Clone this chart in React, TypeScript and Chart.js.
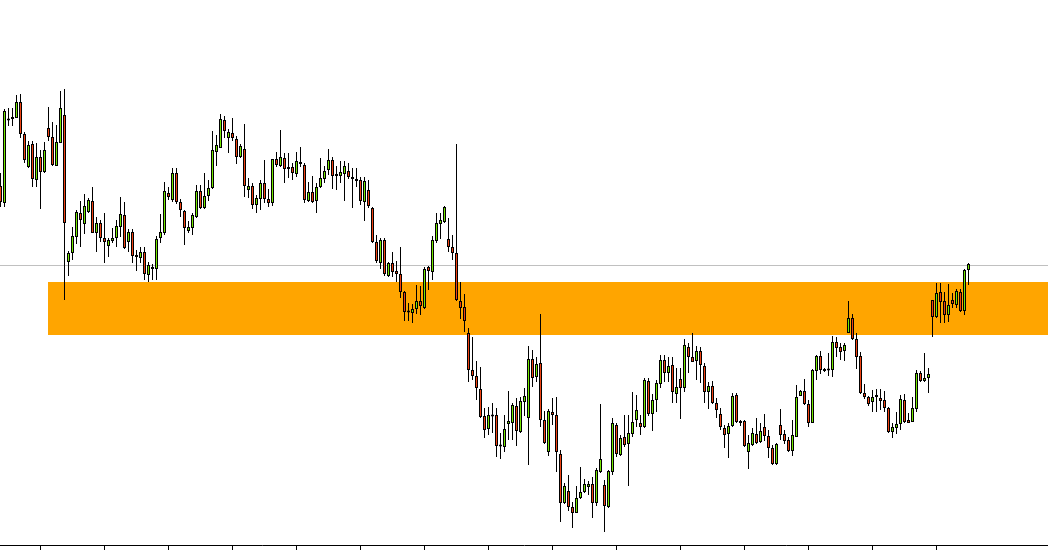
import { useEffect, useRef } from 'react';
import { Chart, registerables } from 'chart.js';

Chart.register(...registerables);

// Candle values (price units), one entry per bar
const OPEN = [
  414,397,480,481,482,498,466,433,456,420,
  443,428,472,463,434,457,485,338,347,363,
  387,376,388,399,367,377,362,354,359,362,
  373,385,358,368,345,342,348,325,333,331,
  362,367,407,400,427,398,389,369,372,383,
  409,392,404,412,448,452,480,462,467,461,
  443,451,410,414,395,401,417,401,397,441,
  434,442,431,433,426,438,435,399,408,399,
  413,421,430,440,424,424,426,429,423,421,
  420,398,410,392,358,337,360,324,337,329,
  326,308,289,287,291,299,292,333,328,359,
  376,378,361,353,347,299,293,267,230,224,
  211,184,171,184,185,154,153,176,177,194,
  168,198,182,241,223,237,180,148,188,185,
  146,97,109,93,87,102,108,113,116,97,
  128,115,93,128,175,145,163,156,166,180,
  177,173,219,186,200,216,240,227,235,206,
  221,212,253,243,239,249,234,208,214,197,
  186,172,166,174,205,177,179,148,155,166,
  158,173,164,152,136,175,166,160,149,163,
  204,209,196,177,229,244,229,230,230,258,
  253,249,267,282,261,244,207,203,198,203,
  202,200,192,168,172,176,200,180,178,191,
  227,219,222,300,283,308,299,285,300,295,
  308,289,330,
];
const HIGH = [
  427,491,492,492,505,506,468,459,459,457,
  450,458,493,478,475,509,511,349,373,390,
  399,406,402,413,383,380,387,362,372,380,
  403,398,371,371,350,353,353,338,336,364,
  386,418,413,432,432,401,390,379,387,415,
  415,427,420,469,465,486,484,471,482,464,
  456,476,422,417,405,420,440,411,441,448,
  470,447,447,437,448,453,437,418,424,417,
  442,434,451,443,434,439,439,437,432,432,
  423,423,420,393,365,362,362,338,348,339,
  353,309,297,296,315,314,333,334,364,387,
  387,394,382,365,456,318,306,272,263,239,
  233,192,193,197,192,167,185,209,197,202,
  203,212,254,250,243,286,189,191,202,203,
  150,117,125,98,114,133,121,119,123,132,
  196,120,130,182,177,165,185,185,208,205,
  185,222,222,206,220,245,245,243,243,232,
  232,261,257,267,254,253,237,218,219,202,
  192,175,177,207,207,180,180,165,172,182,
  177,186,170,155,157,191,170,163,180,215,
  210,221,200,231,245,249,232,247,264,263,
  257,257,299,286,267,248,216,204,210,211,
  211,209,193,177,188,205,206,187,203,230,
  229,247,232,300,317,317,308,316,307,311,
  311,331,337,
];
const LOW = [
  393,393,474,474,482,462,437,432,413,413,
  391,427,459,434,434,457,300,324,340,356,
  353,366,387,367,348,358,337,343,357,353,
  363,351,348,337,329,337,320,318,320,320,
  357,365,400,398,396,383,355,367,365,382,
  391,391,399,411,434,452,462,447,459,436,
  442,403,402,391,387,390,397,393,394,433,
  433,417,422,420,423,433,397,398,397,387,
  412,417,425,411,410,417,399,421,392,413,
  395,379,392,357,337,331,324,323,323,318,
  302,279,279,277,286,285,291,310,320,357,
  361,377,348,340,299,281,268,218,220,200,
  182,162,165,167,143,141,148,160,160,154,
  167,184,135,213,218,173,156,144,175,128,
  78,96,89,72,87,101,107,105,82,94,
  127,68,92,125,143,144,153,114,163,173,
  165,172,184,169,188,212,218,218,197,197,
  181,208,227,238,220,217,197,191,196,182,
  170,152,142,173,177,174,153,131,154,156,
  157,159,142,135,135,160,156,148,144,163,
  204,195,173,177,220,226,228,224,223,243,
  240,239,267,260,231,206,201,194,188,188,
  190,188,167,162,166,170,177,177,178,188,
  218,218,207,263,282,277,277,278,292,292,
  288,285,315,
];
const CLOSE = [
  398,489,481,483,498,466,440,455,421,443,
  428,450,463,435,458,492,377,347,364,388,
  380,394,400,367,377,362,358,360,362,374,
  386,352,368,344,343,348,326,335,331,361,
  368,409,403,427,398,390,372,373,385,409,
  392,404,412,450,455,481,469,468,462,443,
  454,414,414,395,402,417,401,397,441,435,
  443,431,433,427,439,436,400,408,398,413,
  422,429,440,424,426,428,434,423,421,419,
  399,419,394,358,339,360,326,337,328,326,
  308,288,288,291,299,294,331,329,360,377,
  380,393,353,347,300,292,279,230,224,212,
  183,170,185,185,154,155,171,179,195,169,
  199,204,241,222,236,180,157,189,185,148,
  97,114,93,87,102,108,116,116,97,130,
  141,94,129,177,146,162,155,167,178,190,
  173,220,186,200,217,240,227,234,208,213,
  212,255,243,238,249,235,208,214,197,190,
  173,165,174,204,178,179,154,157,167,157,
  169,164,152,136,156,165,159,149,165,203,
  209,196,177,230,244,230,231,231,258,252,
  248,255,282,261,243,207,203,196,203,205,
  199,192,168,173,176,201,178,177,192,227,
  219,222,226,283,307,298,285,295,296,309,
  289,330,336,
];

// Zone and reference level
const ZONE_START = 11.875;
const ZONE_HIGH = 318;
const ZONE_LOW = 265;
const REF_LEVEL = 335.5;

// Axis ranges / tick spacing (in bar index units)
const X_MIN = -0.125;
const X_MAX = 261.875;
const Y_MIN = 55;
const Y_MAX = 600;
const TICK_START = 9.875;
const TICK_STEP = 16;
const TICK_END = 234;

const UP_COLOR = '#74E800';
const DOWN_COLOR = '#F04212';

const zonePlugin = {
  id: 'zoneBand',
  beforeDatasetsDraw(chart: any) {
    const { ctx, chartArea, scales } = chart;
    const x = scales.x;
    const y = scales.y;
    ctx.save();
    ctx.fillStyle = '#FFA500';
    const x0 = x.getPixelForValue(ZONE_START);
    const y0 = y.getPixelForValue(ZONE_HIGH);
    const y1 = y.getPixelForValue(ZONE_LOW);
    ctx.fillRect(x0, y0, chartArea.right - x0, y1 - y0);
    const yl = Math.round(y.getPixelForValue(REF_LEVEL)) + 0.5;
    ctx.strokeStyle = '#C0C0C0';
    ctx.lineWidth = 1;
    ctx.beginPath();
    ctx.moveTo(chartArea.left, yl);
    ctx.lineTo(chartArea.right, yl);
    ctx.stroke();
    ctx.restore();
  },
};

export default function App() {
  const canvasRef = useRef<HTMLCanvasElement | null>(null);

  useEffect(() => {
    if (!canvasRef.current) return;
    const bodies = OPEN.map((o, i) => {
      const c = CLOSE[i];
      let lo = Math.min(o, c);
      let hi = Math.max(o, c);
      if (hi - lo < 2) {
        const m = (hi + lo) / 2;
        lo = m - 1;
        hi = m + 1;
      }
      return { x: i, y: [lo, hi] };
    });
    const bodyColors = OPEN.map((o, i) => (CLOSE[i] >= o ? UP_COLOR : DOWN_COLOR));
    const wicks = HIGH.map((h, i) => ({ x: i, y: [LOW[i], h] }));

    const chart = new Chart(canvasRef.current, {
      type: 'bar',
      data: {
        datasets: [
          {
            label: 'body',
            data: bodies as any,
            backgroundColor: bodyColors,
            borderColor: '#000000',
            borderWidth: 1,
            borderSkipped: false,
            barThickness: 3,
            grouped: false,
            inflateAmount: 0,
            order: 0,
          } as any,
          {
            label: 'wick',
            data: wicks as any,
            backgroundColor: '#000000',
            borderWidth: 0,
            barThickness: 1,
            grouped: false,
            inflateAmount: 0,
            order: 1,
          } as any,
        ],
      },
      options: {
        animation: false,
        responsive: false,
        events: [],
        layout: { padding: 0 },
        plugins: {
          legend: { display: false },
          tooltip: { enabled: false },
          title: { display: false },
        },
        scales: {
          x: {
            type: 'linear',
            min: X_MIN,
            max: X_MAX,
            offset: false,
            afterBuildTicks: (scale: any) => {
              const t: any[] = [];
              for (let v = TICK_START; v <= TICK_END; v += TICK_STEP) t.push({ value: v });
              scale.ticks = t;
            },
            ticks: { display: false },
            grid: {
              display: true,
              offset: false,
              drawOnChartArea: false,
              drawTicks: true,
              tickLength: 5,
              color: '#000000',
              lineWidth: 1,
            },
            border: { display: true, color: '#000000', width: 1 },
          } as any,
          y: {
            type: 'linear',
            min: Y_MIN,
            max: Y_MAX,
            display: false,
          },
        },
      },
      plugins: [zonePlugin],
    });
    return () => chart.destroy();
  }, []);

  return (
    <div style={{ position: 'absolute', left: 0, top: 0, width: 1048, height: 550, background: '#ffffff' }}>
      <canvas ref={canvasRef} width={1048} height={550} style={{ display: 'block' }} />
    </div>
  );
}
